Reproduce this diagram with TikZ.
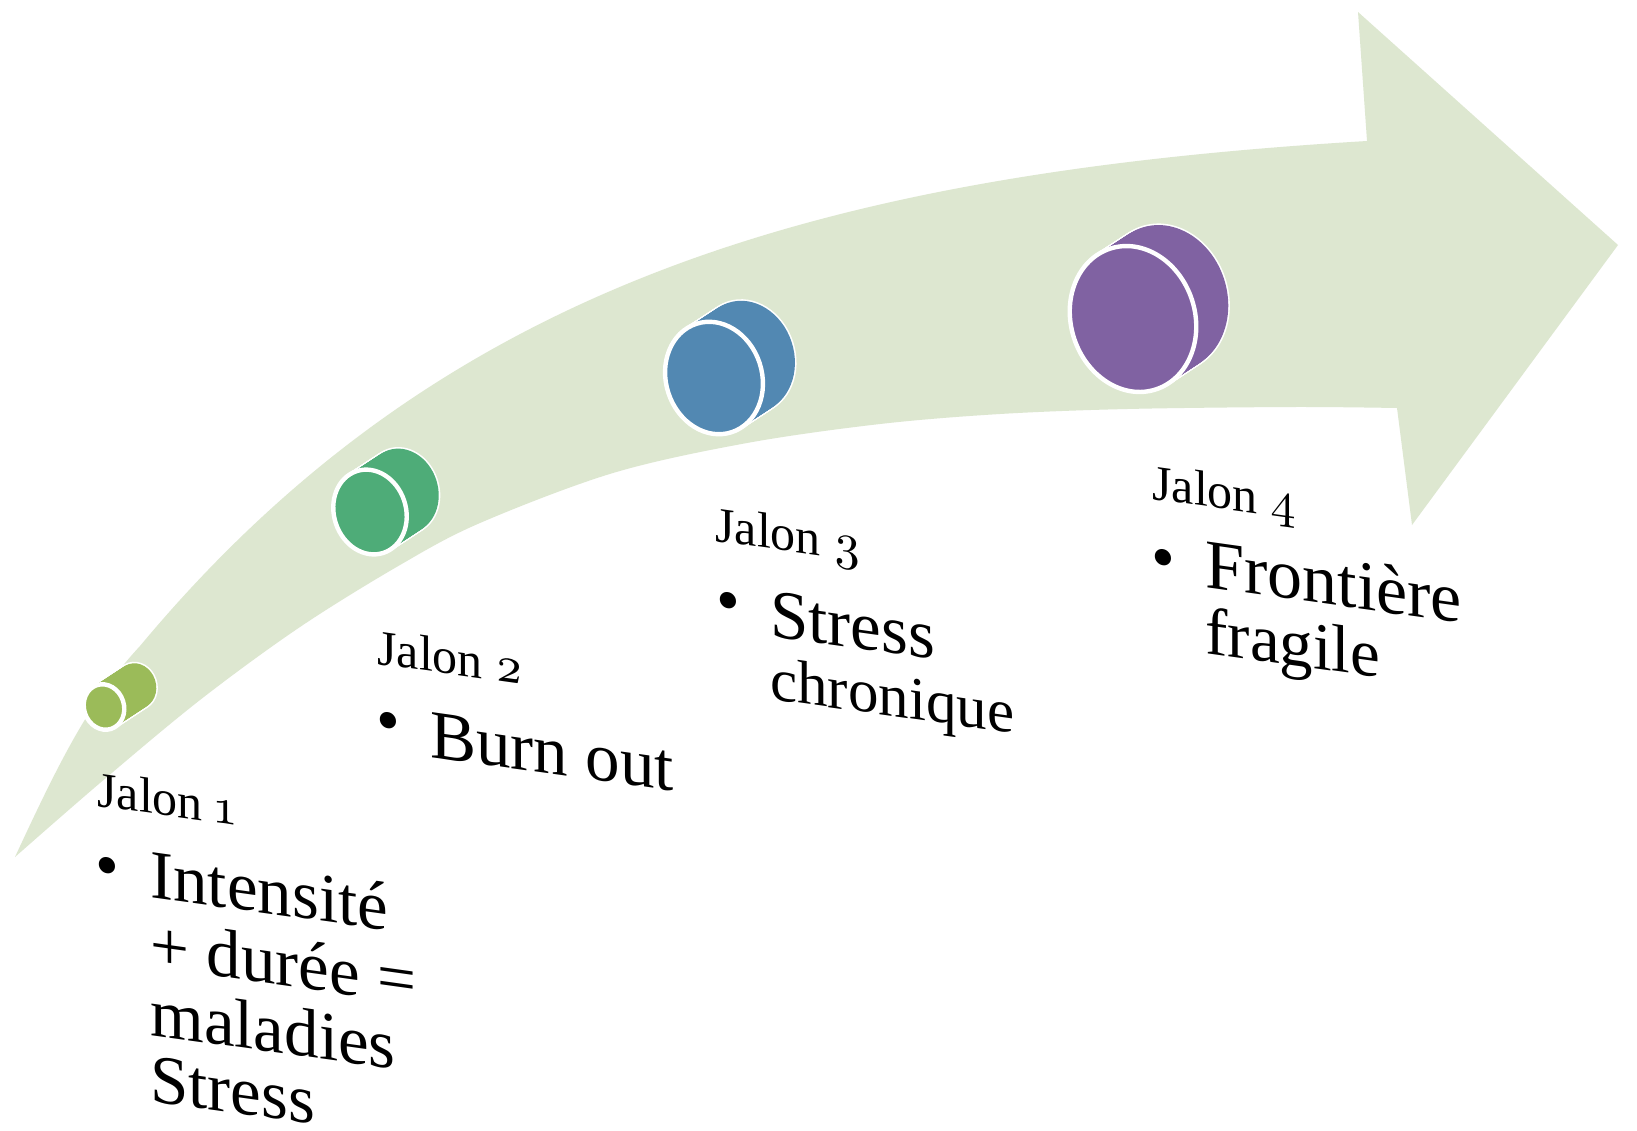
\documentclass[tikz,border=0pt]{standalone}
\usepackage{fontspec}
\setmainfont{Liberation Serif}
\newfontfamily\osf{lmroman10-regular.otf}[Numbers=OldStyle]
\definecolor{arrowfill}{RGB}{221,231,208}
\definecolor{cOne}{RGB}{155,187,89}
\definecolor{cTwo}{RGB}{78,172,120}
\definecolor{cThree}{RGB}{82,136,178}
\definecolor{cFour}{RGB}{128,98,162}
\newcommand\jdisc[5]{%
  \foreach \t in {0,0.04,...,1.001}{
    \draw[white, line width=1.6pt, rotate around={18:({#1+32*\t},{#2-21*\t})}]
      ({#1+32*\t},{#2-21*\t}) ellipse [x radius=#3, y radius=#4];
  }
  \foreach \t in {0,0.04,...,1.001}{
    \fill[#5, rotate around={18:({#1+32*\t},{#2-21*\t})}]
      ({#1+32*\t},{#2-21*\t}) ellipse [x radius=#3, y radius=#4];
  }
  \filldraw[fill=#5, draw=white, line width=2.2pt, rotate around={18:(#1,#2)}]
    (#1,#2) ellipse [x radius=#3, y radius=#4];
}
\begin{document}
\begin{tikzpicture}[x=0.5pt,y=-0.5pt,
  lbl/.style={anchor=base west, inner sep=0pt, yslant=-0.14, font=\fontsize{25}{30}\selectfont},
  txt/.style={anchor=base west, inner sep=0pt, yslant=-0.14, font=\fontsize{34.5}{40}\selectfont},
  bul/.style={anchor=center, inner sep=0pt, yslant=-0.14, font=\fontsize{34}{40}\selectfont}]
\fill[white] (0,0) rectangle (1637,1130);
\useasboundingbox (0,0) rectangle (1637,1130);
% arrow
\fill[arrowfill] (15,857) .. controls (60,760) and (90,700) .. (140,646)
  .. controls (440,286) and (817,174) .. (1367,141)
  -- (1358,12) -- (1618,245) -- (1412,525) -- (1397,408)
  -- plot[smooth, tension=0.55] coordinates {(1397,408) (1293,407) (1127,409) (1000,414) (880,424) (747,443) (613,473) (480,523) (400,565) (300,627) (200,700) (100,783) (15,857)} -- cycle;
% markers
\jdisc{104}{707}{20}{23}{cOne}
\jdisc{370}{512}{36}{43}{cTwo}
\jdisc{714}{378}{48}{57}{cThree}
\jdisc{1133}{319}{62}{74}{cFour}
% texts
\node[lbl] (j1) at (97,806) {Jalon {\osf 1}};
\node[bul] (b1) at (107,873) {\textbullet};
\node[txt] (t1a) at (150,897) {Intensité};
\node[txt] (t1b) at (150,967) {+ durée =};
\node[txt] (t1c) at (150,1035) {maladies};
\node[txt] (t1d) at (150,1101) {Stress};
\node[lbl] (j2) at (377,664) {Jalon {\osf 2}};
\node[bul] (b2) at (388,728) {\textbullet};
\node[txt] (t2a) at (430,757) {Burn out};
\node[lbl] (j3) at (715,541) {Jalon {\osf 3}};
\node[bul] (b3) at (728,608) {\textbullet};
\node[txt] (t3a) at (770,636) {Stress};
\node[txt, font=\fontsize{30.5}{36}\selectfont] (t3b) at (770,699) {chronique};
\node[lbl] (j4) at (1152,499) {Jalon {\osf 4}};
\node[bul] (b4) at (1163,565) {\textbullet};
\node[txt, font=\fontsize{35}{40}\selectfont] (t4a) at (1205,587) {Frontière};
\node[txt, font=\fontsize{33.5}{40}\selectfont] (t4b) at (1205,653) {fragile};
\end{tikzpicture}
\end{document}
